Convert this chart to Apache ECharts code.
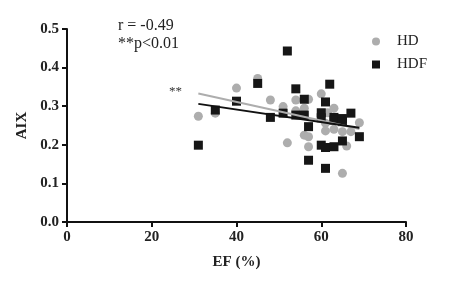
<!DOCTYPE html>
<html>
<head>
<meta charset="utf-8">
<script src="https://cdn.jsdelivr.net/npm/echarts@6/dist/echarts.min.js"></script>
<style>
html,body{margin:0;padding:0;background:#fff;}
#chart{width:455px;height:283px;}
</style>
</head>
<body>
<div id="chart"></div>
<script>
var xTicks = [0, 20, 40, 60, 80];
var yTicks = [0.0, 0.1, 0.2, 0.3, 0.4, 0.5];

var hdEF  = [31, 35, 40, 45, 48, 51, 52, 54, 54, 56, 56, 57, 57, 57, 60, 61, 61.5, 61, 63, 63, 65, 65, 66, 67, 69];
var hdAIX = [0.274, 0.282, 0.347, 0.372, 0.316, 0.299, 0.205, 0.316, 0.288, 0.295, 0.225, 0.318, 0.221, 0.195, 0.332, 0.256, 0.283, 0.236, 0.295, 0.240, 0.234, 0.126, 0.197, 0.234, 0.257];

var hdfEF  = [31, 35, 40, 45, 48, 51, 52, 54, 54, 56, 56, 57, 57, 60, 60, 60, 61, 61, 61, 62, 63, 63, 63, 65, 65, 65, 67, 69];
var hdfAIX = [0.199, 0.290, 0.313, 0.359, 0.271, 0.282, 0.443, 0.345, 0.277, 0.318, 0.277, 0.247, 0.160, 0.283, 0.270, 0.199, 0.311, 0.193, 0.139, 0.357, 0.271, 0.264, 0.195, 0.268, 0.260, 0.210, 0.282, 0.221];

var hdFitEF = [31, 69];
var hdFitAIX = [0.333, 0.241];
var hdfFitEF = [31, 69];
var hdfFitAIX = [0.306, 0.244];

function pairs(a, b){ return a.map(function(v,i){ return [v, b[i]]; }); }

var serif = 'Liberation Serif';
var chart = echarts.init(document.getElementById('chart'), null, {renderer:'canvas'});
chart.setOption({
  animation: false,
  backgroundColor: '#ffffff',
  grid: {left: 67, right: 49, top: 29, bottom: 61, containLabel: false},
  legend: {
    orient: 'vertical', left: 367, top: 29, itemGap: 8, itemWidth: 8, itemHeight: 8,
    textStyle: {fontFamily: serif, fontSize: 15, color: '#222', padding: [0, 0, 0, 12]},
    data: [{name:'HD', icon:'circle'}, {name:'HDF', icon:'rect'}]
  },
  xAxis: {
    type: 'value', min: 0, max: 80, interval: 20,
    name: 'EF (%)', nameLocation: 'middle', nameGap: 33,
    nameTextStyle: {fontFamily: serif, fontSize: 15, fontWeight: 'bold', color: '#222'},
    axisLine: {lineStyle: {color: '#111', width: 2}},
    axisTick: {length: 5, lineStyle: {color: '#111', width: 2}},
    axisLabel: {fontFamily: serif, fontSize: 15, fontWeight: 'bold', color: '#222', margin: 8},
    splitLine: {show: false}
  },
  yAxis: {
    type: 'value', min: 0, max: 0.5, interval: 0.1,
    name: 'AIX', nameLocation: 'middle', nameGap: 37, nameRotate: 90,
    nameTextStyle: {fontFamily: serif, fontSize: 15, fontWeight: 'bold', color: '#222'},
    axisLine: {show: true, lineStyle: {color: '#111', width: 2}},
    axisTick: {show: true, length: 5, lineStyle: {color: '#111', width: 2}},
    axisLabel: {fontFamily: serif, fontSize: 15, fontWeight: 'bold', color: '#222', margin: 8,
      formatter: function(v){ return v.toFixed(1); }},
    splitLine: {show: false}
  },
  graphic: [
    {type:'text', left: 118, top: 18, style:{text:'r = -0.49', font:'16px "Liberation Serif"', fill:'#222'}},
    {type:'text', left: 118, top: 36, style:{text:'**p<0.01', font:'16px "Liberation Serif"', fill:'#222'}},
    {type:'text', left: 169, top: 85, style:{text:'**', font:'13px "Liberation Serif"', fill:'#333'}}
  ],
  series: [
    {name:'HD', type:'scatter', symbol:'circle', symbolSize: 9, itemStyle:{color:'#adadad', opacity: 1}, data: pairs(hdEF, hdAIX), z: 2},
    {name:'HDF', type:'scatter', symbol:'rect', symbolSize: 9, itemStyle:{color:'#161616', opacity: 1}, data: pairs(hdfEF, hdfAIX), z: 3},
    {name:'HD fit', type:'line', symbol:'none', lineStyle:{color:'#adadad', width:2}, data: pairs(hdFitEF, hdFitAIX), z: 4},
    {name:'HDF fit', type:'line', symbol:'none', lineStyle:{color:'#111', width:2}, data: pairs(hdfFitEF, hdfFitAIX), z: 5}
  ]
});
</script>
</body>
</html>
